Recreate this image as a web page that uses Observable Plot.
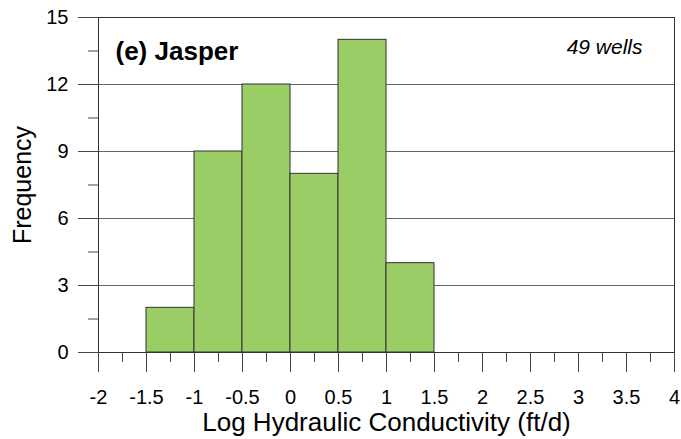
<!DOCTYPE html>
<html>
<head>
<meta charset="utf-8">
<script src="https://cdn.jsdelivr.net/npm/d3@7"></script>
<script src="https://cdn.jsdelivr.net/npm/@observablehq/plot@0.6"></script>
<style>
  html, body { margin: 0; padding: 0; background: #fff; }
</style>
</head>
<body>
<div id="chart"></div>
<script>
// Data
const binStart = [-1.5, -1, -0.5, 0, 0.5, 1];
const binEnd = [-1, -0.5, 0, 0.5, 1, 1.5];
const counts = [2, 9, 12, 8, 14, 4];

const xMajorTicks = [-2, -1.5, -1, -0.5, 0, 0.5, 1, 1.5, 2, 2.5, 3, 3.5, 4];
const xMinorTicks = [-1.75, -1.25, -0.75, -0.25, 0.25, 0.75, 1.25, 1.75, 2.25, 2.75, 3.25, 3.75];
const yMajorTicks = [0, 3, 6, 9, 12, 15];
const yMinorTicks = [1.5, 4.5, 7.5, 10.5, 13.5];
const gridTicks = [3, 6, 9, 12];

const title = "(e) Jasper";
const note = "49 wells";
const xLabel = "Log Hydraulic Conductivity (ft/d)";
const yLabel = "Frequency";

const bins = binStart.map((s, i) => ({x1: s, x2: binEnd[i], count: counts[i]}));

const font = "'Liberation Sans', Arial, Helvetica, sans-serif";

const chart = Plot.plot({
  width: 681,
  height: 439,
  marginLeft: 98,
  marginRight: 7,
  marginTop: 17,
  marginBottom: 87,
  style: {fontFamily: font, fontSize: "19px", color: "#000", background: "#fff"},
  x: {domain: [-2, 4]},
  y: {domain: [0, 15]},
  marks: [
    Plot.ruleY(gridTicks, {stroke: "#666", strokeWidth: 1}),
    Plot.rectY(bins, {x1: "x1", x2: "x2", y: "count", fill: "#9acd66", stroke: "#333", strokeWidth: 1}),
    Plot.frame({stroke: "#333", strokeWidth: 1}),
    Plot.axisX({ticks: xMajorTicks, tickSize: 20, tickPadding: 17, tickFormat: d => String(d), stroke: "#444", fontSize: 20, label: null}),
    Plot.axisX({ticks: xMinorTicks, tickSize: 10, tickFormat: () => "", stroke: "#444", label: null}),
    Plot.axisY({ticks: yMajorTicks, tickSize: 20, tickPadding: 10, tickFormat: d => String(d), stroke: "#444", fontSize: 20, label: null}),
    Plot.axisY({ticks: yMinorTicks, tickSize: 10, tickFormat: () => "", stroke: "#444", label: null}),
    Plot.text([yLabel], {text: d => d, frameAnchor: "left", textAnchor: "middle", lineAnchor: "middle", dx: -76, rotate: -90, fontSize: 25, fill: "#000"}),
    Plot.text([xLabel], {text: d => d, frameAnchor: "bottom", textAnchor: "middle", lineAnchor: "middle", dy: 70, fontSize: 26, fill: "#000"}),
    Plot.text([title], {text: d => d, frameAnchor: "top-left", textAnchor: "start", lineAnchor: "top", dx: 17, dy: 24, fontSize: 26, fontWeight: "bold", fill: "#000"}),
    Plot.text([note], {text: d => d, frameAnchor: "top-right", textAnchor: "end", lineAnchor: "top", dx: -32, dy: 22, fontSize: 21, fontStyle: "italic", fill: "#000"})
  ]
});
document.getElementById("chart").appendChild(chart);
</script>
</body>
</html>
